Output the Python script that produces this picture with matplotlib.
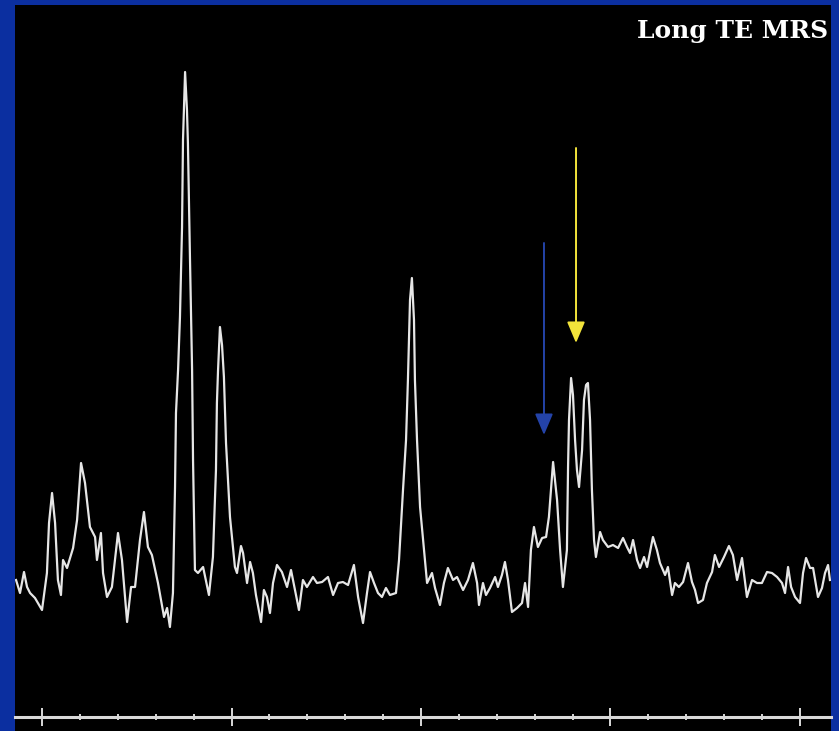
import matplotlib
matplotlib.use("Agg")
import matplotlib.pyplot as plt
from matplotlib.ticker import MultipleLocator, NullFormatter

# chemical shift (ppm) and signal (arbitrary units)
ppm = [
    # baseline + mI / Glx region
    4.137, 4.116, 4.095, 4.079, 4.063, 4.037, 4.000, 3.974, 3.963, 3.947,
    3.931, 3.916, 3.900, 3.889, 3.868, 3.836, 3.815, 3.794, 3.773, 3.747,
    3.720, 3.710, 3.689, 3.678, 3.657, 3.631, 3.599, 3.578, 3.551, 3.530,
    3.509, 3.483, 3.462, 3.441, 3.420, 3.388, 3.356, 3.340, 3.325, 3.309,
    # Cho / Cr
    3.298, 3.293, 3.282, 3.272, 3.261, 3.256, 3.245, 3.235, 3.230, 3.219,
    3.208, 3.203, 3.193, 3.177, 3.150, 3.119, 3.098, 3.082, 3.077, 3.071,
    3.061, 3.050, 3.040, 3.029, 3.008, 2.982, 2.971,
    # flat part
    2.950, 2.939, 2.918, 2.902, 2.887, 2.871, 2.844, 2.829, 2.813, 2.797,
    2.781, 2.760, 2.734, 2.707, 2.686, 2.665, 2.644, 2.623, 2.602, 2.570,
    2.549, 2.522, 2.491, 2.464, 2.438, 2.412, 2.385, 2.354, 2.332, 2.306,
    2.285, 2.269, 2.248, 2.227, 2.206, 2.185, 2.164, 2.132, 2.116,
    # NAA
    2.095, 2.079, 2.069, 2.058, 2.048, 2.037, 2.032, 2.021, 2.005, 1.984, 1.968,
    1.942, 1.926, 1.900, 1.879, 1.858, 1.831, 1.810, 1.778, 1.752, 1.726,
    1.704, 1.694, 1.673, 1.657, 1.636, 1.609, 1.594, 1.573, 1.557, 1.541,
    1.520, 1.493, 1.467, 1.451, 1.435,
    # Ala / Lac
    1.420, 1.404, 1.383, 1.361, 1.340, 1.325, 1.303, 1.282, 1.266, 1.251,
    1.230, 1.224, 1.219, 1.208, 1.198, 1.187, 1.177, 1.166, 1.150, 1.140,
    1.129, 1.119, 1.108, 1.098, 1.087, 1.077,
    # tail
    1.055, 1.040, 1.013, 0.987, 0.960, 0.934, 0.913, 0.897, 0.881, 0.860,
    0.844, 0.823, 0.807, 0.776, 0.755, 0.739, 0.712, 0.697, 0.675, 0.660,
    0.639, 0.617, 0.591, 0.570, 0.554, 0.538, 0.512, 0.491, 0.464, 0.449,
    0.427, 0.401, 0.375, 0.354, 0.332, 0.306, 0.280, 0.253, 0.227, 0.201,
    0.174, 0.148, 0.121, 0.095, 0.079, 0.063, 0.047, 0.026, 0.000, -0.016,
    -0.032, -0.053, -0.069, -0.095, -0.116, -0.132, -0.148, -0.158,
]

signal = [
    2.0, 0.7, 2.8, 1.3, 0.7, 0.2, -1.0, 2.7, 7.7, 10.7,
    7.7, 2.0, 0.5, 4.0, 3.2, 5.2, 8.0, 13.7, 11.7, 7.3,
    6.3, 4.0, 6.7, 2.7, 0.3, 1.3, 6.7, 4.0, -2.2, 1.3,
    1.3, 6.0, 8.8, 5.3, 4.5, 1.7, -1.7, -0.8, -2.7, 0.7,
    11.3, 18.7, 23.0, 28.3, 37.3, 46.0, 52.8, 49.0, 45.7, 34.0,
    23.0, 14.0, 3.0, 2.7, 3.3, 0.5, 4.3, 13.0, 19.7, 23.0,
    27.3, 25.5, 22.3, 15.7, 8.3, 3.3, 2.7,
    5.4, 4.7, 1.7, 3.8, 2.7, 0.5, -2.2, 1.0, 0.3, -1.3,
    1.7, 3.5, 2.8, 1.3, 3.0, 1.0, -1.0, 2.0, 1.3, 2.3,
    1.7, 1.8, 2.3, 0.5, 1.7, 1.8, 1.5, 3.5, 0.3, -2.3,
    0.7, 2.8, 1.7, 0.7, 0.3, 1.2, 0.5, 0.7, 4.0,
    11.0, 16.0, 22.0, 30.0, 32.2, 28.0, 22.0, 16.0, 9.3, 5.0, 1.7,
    2.7, 1.2, -0.5, 1.7, 3.2, 2.0, 2.3, 1.0, 2.0, 3.7,
    1.7, -0.5, 1.7, 0.5, 1.2, 2.3, 1.3, 2.5, 3.8, 2.0,
    -1.2, -0.8, -0.3, 1.7, -0.7,
    5.0, 7.3, 5.3, 6.2, 6.3, 8.3, 13.8, 10.0, 5.0, 1.3,
    5.0, 13.3, 18.0, 22.2, 20.5, 16.0, 13.0, 11.3, 15.0, 20.0,
    21.5, 21.7, 18.0, 11.0, 6.0, 4.3,
    6.8, 6.0, 5.3, 5.5, 5.2, 6.2, 5.3, 4.7, 6.0, 4.0,
    3.2, 4.3, 3.3, 6.3, 5.0, 3.7, 2.5, 3.3, 0.5, 1.7,
    1.3, 1.8, 3.7, 1.8, 1.0, -0.3, 0.0, 1.7, 2.8, 4.5,
    3.3, 4.3, 5.4, 4.5, 2.0, 4.2, 0.3, 2.0, 1.7, 1.7,
    2.8, 2.7, 2.3, 1.7, 0.7, 3.3, 1.3, 0.3, -0.3, 2.7,
    4.2, 3.2, 3.2, 0.3, 1.2, 2.7, 3.5, 2.0,
]
assert len(ppm) == len(signal)

# arrows: (ppm, tail, tip, colour)
arrow_ppm = [1.351, 1.182]
arrow_tail = [35.7, 45.2]
arrow_tip = [16.5, 25.7]
arrow_colors = ["#2443a8", "#f2e33a"]

title = "Long TE MRS"

fig = plt.figure(figsize=(8.39, 7.31), dpi=100, facecolor="#0b2fa0")
ax = fig.add_axes([15 / 839, 0, 816 / 839, 726 / 731])
ax.set_facecolor("black")

ax.plot(ppm, signal, color="#e6e6e6", linewidth=1.6)

for xp, y0, y1, c in zip(arrow_ppm, arrow_tail, arrow_tip, arrow_colors):
    ax.annotate("", xy=(xp, y1), xytext=(xp, y0),
                arrowprops=dict(arrowstyle="-|>,head_length=1.3,head_width=0.55",
                                mutation_scale=10, color=c, lw=1.4,
                                shrinkA=0, shrinkB=0))

ax.set_xlim(4.1425, -0.1636)
ax.set_ylim(-13.1, 59.5)

# ppm scale drawn as a line with ticks across the bottom
for s in ["top", "left", "right"]:
    ax.spines[s].set_visible(False)
ax.spines["bottom"].set_position(("data", -11.7))
ax.spines["bottom"].set_color("#d9d9d9")
ax.spines["bottom"].set_linewidth(2.2)
ax.xaxis.set_major_locator(MultipleLocator(1.0))
ax.xaxis.set_minor_locator(MultipleLocator(0.2))
ax.xaxis.set_major_formatter(NullFormatter())
ax.tick_params(axis="x", which="major", direction="inout", length=13,
               width=1.4, color="#d9d9d9")
ax.tick_params(axis="x", which="minor", direction="inout", length=4.5,
               width=1.4, color="#d9d9d9")
ax.set_yticks([])

fig.text(828 / 839, 1 - 38 / 731, title, ha="right", va="baseline",
         color="white", fontsize=18, fontweight="bold", family="DejaVu Serif")

fig.savefig("out.png", dpi=100, facecolor=fig.get_facecolor())
